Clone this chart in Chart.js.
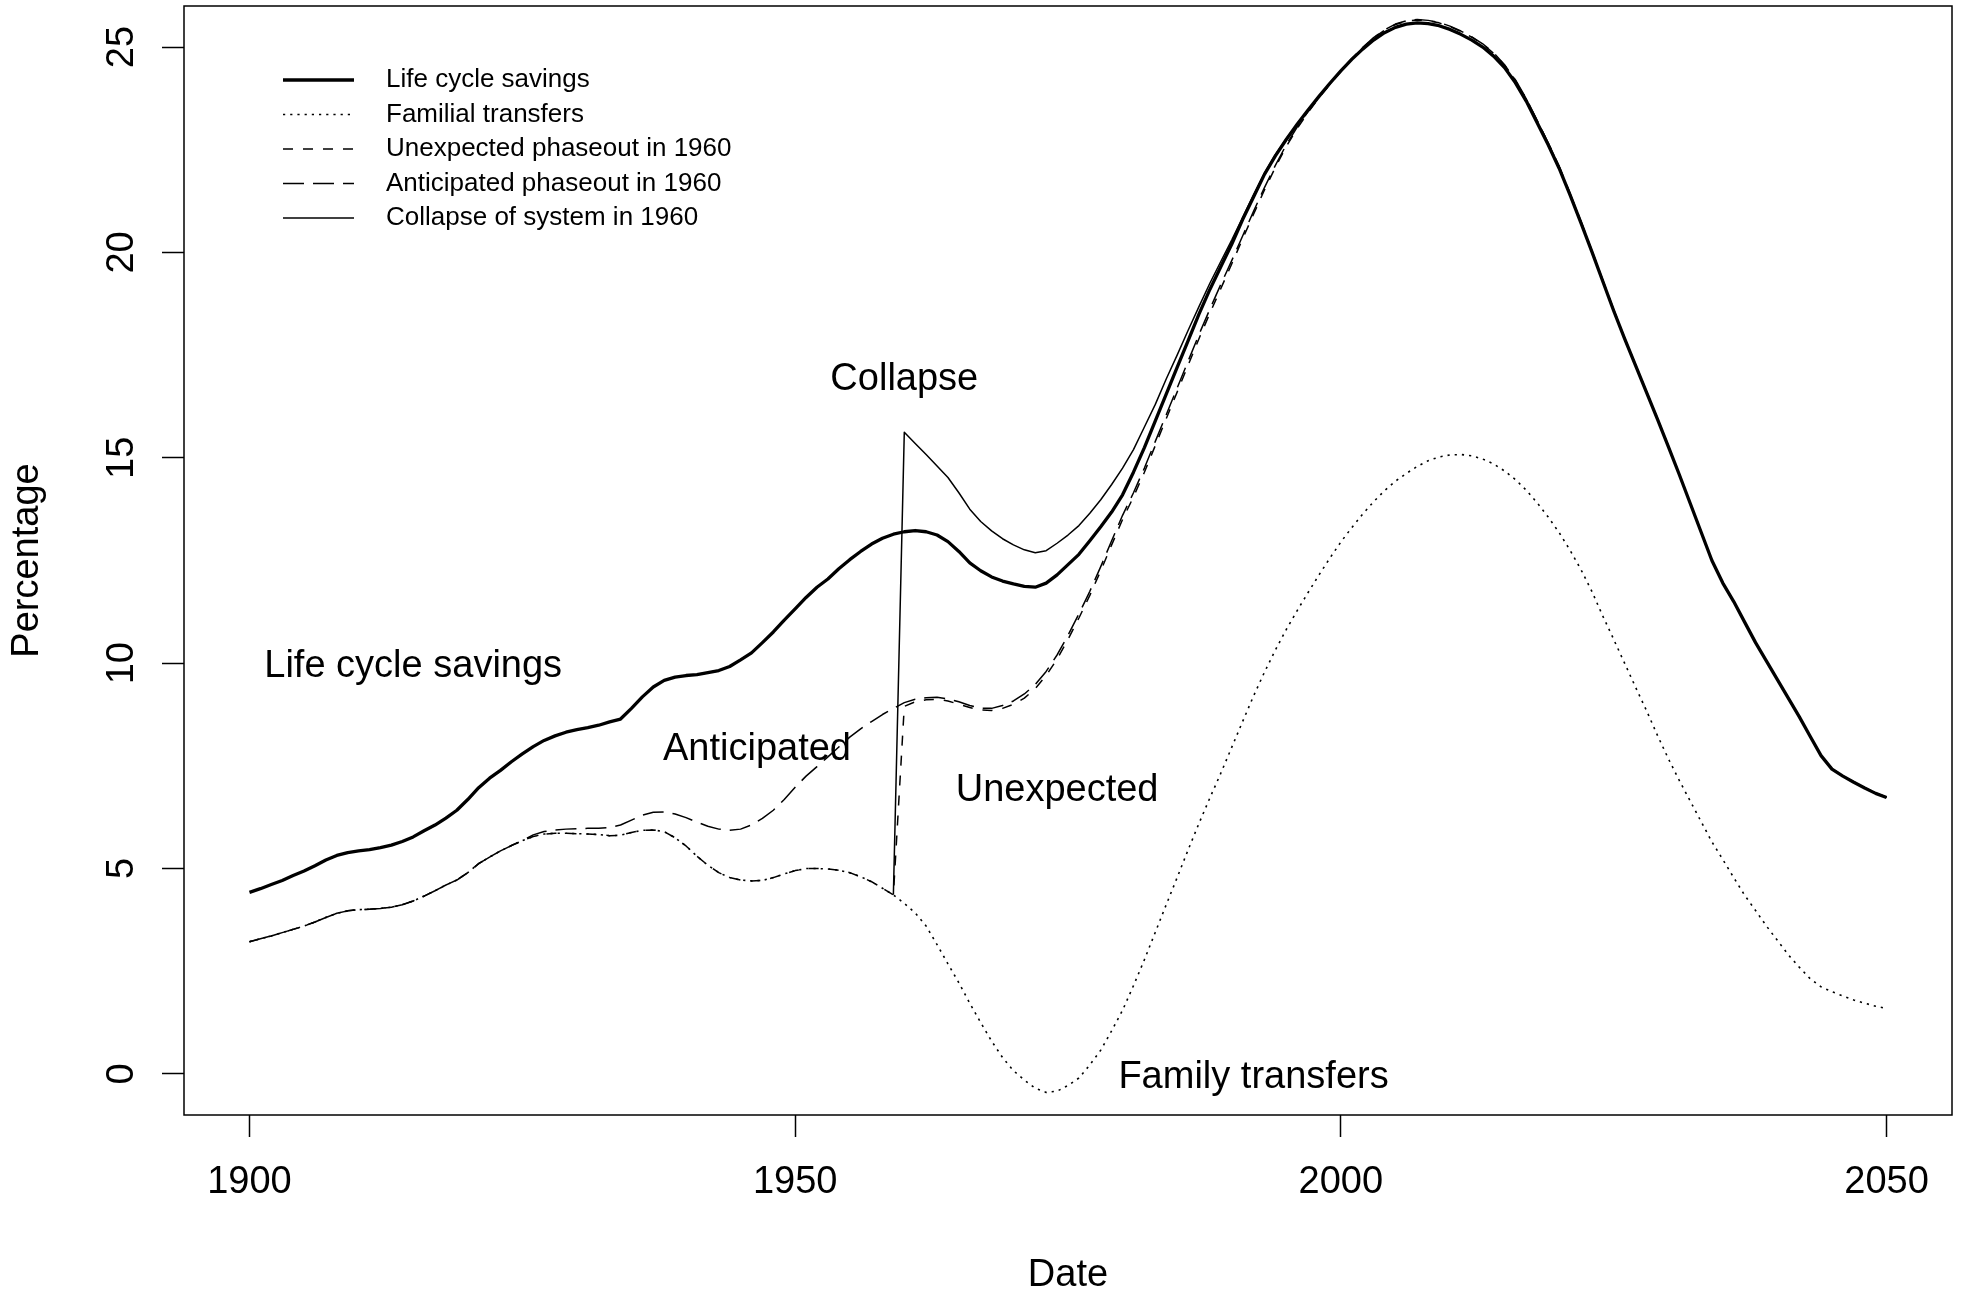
<!DOCTYPE html>
<html>
<head>
<meta charset="utf-8">
<script src="https://cdn.jsdelivr.net/npm/chart.js@4.4.1/dist/chart.umd.min.js"></script>
<style>
html,body{margin:0;padding:0;background:#fff;}
#c{display:block;}
</style>
</head>
<body>
<canvas id="c" width="1965" height="1291"></canvas>
<script>
// ---------- DATA ----------
const years = [
1900,1901,1902,1903,1904,1905,1906,1907,1908,1909,
1910,1911,1912,1913,1914,1915,1916,1917,1918,1919,
1920,1921,1922,1923,1924,1925,1926,1927,1928,1929,
1930,1931,1932,1933,1934,1935,1936,1937,1938,1939,
1940,1941,1942,1943,1944,1945,1946,1947,1948,1949,
1950,1951,1952,1953,1954,1955,1956,1957,1958,1959,
1960,1961,1962,1963,1964,1965,1966,1967,1968,1969,
1970,1971,1972,1973,1974,1975,1976,1977,1978,1979,
1980,1981,1982,1983,1984,1985,1986,1987,1988,1989,
1990,1991,1992,1993,1994,1995,1996,1997,1998,1999,
2000,2001,2002,2003,2004,2005,2006,2007,2008,2009,
2010,2011,2012,2013,2014,2015,2016,2017,2018,2019,
2020,2021,2022,2023,2024,2025,2026,2027,2028,2029,
2030,2031,2032,2033,2034,2035,2036,2037,2038,2039,
2040,2041,2042,2043,2044,2045,2046,2047,2048,2049,
2050];

const lifeCycleSavings = [
4.42,4.51,4.61,4.71,4.83,4.94,5.07,5.21,5.32,5.39,
5.43,5.46,5.51,5.57,5.66,5.77,5.92,6.06,6.23,6.42,
6.68,6.97,7.20,7.39,7.60,7.79,7.97,8.12,8.23,8.32,
8.38,8.43,8.49,8.57,8.64,8.90,9.18,9.42,9.58,9.66,
9.70,9.72,9.77,9.82,9.92,10.08,10.25,10.50,10.76,11.05,
11.32,11.60,11.85,12.05,12.30,12.52,12.72,12.90,13.04,13.14,
13.20,13.23,13.20,13.12,12.96,12.72,12.44,12.25,12.10,12.00,
11.93,11.87,11.85,11.95,12.15,12.40,12.65,12.98,13.32,13.68,
14.10,14.65,15.25,15.90,16.55,17.20,17.85,18.50,19.10,19.65,
20.20,20.80,21.35,21.90,22.35,22.75,23.12,23.47,23.80,24.12,
24.42,24.70,24.95,25.17,25.35,25.48,25.56,25.59,25.57,25.52,
25.43,25.31,25.17,25.00,24.78,24.50,24.13,23.68,23.15,22.62,
22.05,21.40,20.72,20.02,19.30,18.58,17.90,17.25,16.60,15.95,
15.28,14.60,13.90,13.20,12.50,11.95,11.50,11.00,10.50,10.05,
9.60,9.15,8.70,8.22,7.75,7.42,7.25,7.10,6.96,6.83,
6.73];

const familialTransfers = [
3.22,3.29,3.36,3.44,3.52,3.60,3.70,3.81,3.91,3.97,
4.00,4.01,4.03,4.06,4.12,4.21,4.33,4.46,4.60,4.72,
4.90,5.12,5.28,5.43,5.56,5.68,5.78,5.84,5.86,5.86,
5.85,5.84,5.83,5.80,5.81,5.88,5.93,5.94,5.90,5.75,
5.55,5.30,5.08,4.90,4.78,4.72,4.70,4.71,4.78,4.87,
4.95,5.00,5.00,4.99,4.96,4.90,4.80,4.68,4.52,4.36,
4.15,3.92,3.60,3.15,2.68,2.22,1.72,1.25,0.80,0.40,
0.08,-0.15,-0.35,-0.45,-0.42,-0.28,-0.10,0.22,0.58,1.05,
1.55,2.15,2.78,3.45,4.12,4.78,5.45,6.10,6.72,7.32,
7.95,8.58,9.20,9.78,10.32,10.82,11.28,11.72,12.15,12.56,
12.95,13.30,13.63,13.93,14.20,14.43,14.62,14.79,14.93,15.02,
15.07,15.08,15.05,14.97,14.85,14.68,14.47,14.21,13.90,13.56,
13.18,12.75,12.28,11.75,11.15,10.58,10.00,9.42,8.85,8.25,
7.68,7.15,6.65,6.15,5.65,5.22,4.78,4.35,3.98,3.60,
3.25,2.90,2.60,2.32,2.12,2.00,1.90,1.80,1.72,1.65,
1.59];

const unexpectedPhaseout = [
3.22,3.29,3.36,3.44,3.52,3.60,3.70,3.81,3.91,3.97,
4.00,4.01,4.03,4.06,4.12,4.21,4.33,4.46,4.60,4.72,
4.90,5.12,5.28,5.43,5.56,5.68,5.78,5.84,5.86,5.86,
5.85,5.84,5.83,5.80,5.81,5.88,5.93,5.94,5.90,5.75,
5.55,5.30,5.08,4.90,4.78,4.72,4.70,4.71,4.78,4.87,
4.95,5.00,5.00,4.99,4.96,4.90,4.80,4.68,4.52,4.36,
8.95,9.06,9.11,9.12,9.08,9.00,8.92,8.86,8.85,8.90,
9.00,9.15,9.38,9.70,10.10,10.58,11.10,11.65,12.25,12.88,
13.50,14.05,14.65,15.30,15.95,16.60,17.25,17.90,18.52,19.12,
19.72,20.33,20.93,21.52,22.07,22.58,23.02,23.41,23.77,24.09,
24.41,24.71,24.98,25.22,25.41,25.55,25.63,25.66,25.64,25.59,
25.50,25.38,25.24,25.07,24.85,24.56,24.19,23.73,23.20,22.66,
22.09,21.43,20.75,20.04,19.32,18.60,17.91,17.26,16.61,15.96,
15.29,14.60,13.90,13.20,12.50,11.95,11.50,11.00,10.50,10.05,
9.60,9.15,8.70,8.22,7.75,7.43,7.26,7.11,6.97,6.84,
6.74];

const anticipatedPhaseout = [
3.22,3.29,3.36,3.44,3.52,3.60,3.70,3.81,3.91,3.97,
4.00,4.01,4.03,4.06,4.12,4.21,4.33,4.46,4.60,4.72,
4.90,5.12,5.28,5.43,5.56,5.68,5.82,5.90,5.94,5.96,
5.97,5.98,5.98,6.00,6.06,6.18,6.30,6.37,6.38,6.33,
6.24,6.13,6.03,5.96,5.93,5.96,6.06,6.22,6.42,6.68,
6.98,7.25,7.48,7.72,7.96,8.20,8.40,8.58,8.75,8.90,
9.04,9.12,9.16,9.17,9.13,9.06,8.97,8.90,8.90,8.97,
9.08,9.25,9.48,9.80,10.20,10.68,11.20,11.75,12.35,12.98,
13.60,14.15,14.75,15.40,16.05,16.70,17.35,18.00,18.62,19.22,
19.80,20.40,21.00,21.58,22.12,22.62,23.05,23.43,23.78,24.10,
24.42,24.72,24.99,25.23,25.42,25.56,25.64,25.67,25.65,25.60,
25.51,25.39,25.25,25.08,24.86,24.57,24.20,23.74,23.21,22.67,
22.10,21.44,20.76,20.05,19.33,18.61,17.92,17.27,16.62,15.97,
15.30,14.61,13.91,13.21,12.51,11.96,11.50,11.00,10.50,10.05,
9.60,9.15,8.70,8.22,7.75,7.43,7.26,7.11,6.97,6.84,
6.74];

const collapseOfSystem = [
null,null,null,null,null,null,null,null,null,null,
null,null,null,null,null,null,null,null,null,null,
null,null,null,null,null,null,null,null,null,null,
null,null,null,null,null,null,null,null,null,null,
null,null,null,null,null,null,null,null,null,null,
null,null,null,null,null,null,null,null,null,4.36,
15.62,15.35,15.08,14.80,14.52,14.15,13.75,13.45,13.22,13.03,
12.88,12.76,12.69,12.74,12.92,13.12,13.35,13.65,13.98,14.35,
14.75,15.20,15.75,16.30,16.92,17.50,18.10,18.68,19.25,19.78,
20.30,20.85,21.40,21.93,22.38,22.77,23.12,23.47,23.80,24.12,
24.42,24.70,24.95,25.17,25.35,25.48,25.56,25.59,25.57,25.52,
25.43,25.31,25.17,25.00,24.78,24.50,24.13,23.68,23.15,22.62,
22.05,21.40,20.72,20.02,19.30,18.58,17.90,17.25,16.60,15.95,
15.28,14.60,13.90,13.20,12.50,11.95,11.50,11.00,10.50,10.05,
9.60,9.15,8.70,8.22,7.75,7.42,7.25,7.10,6.96,6.83,
6.73];

const seriesLabels = [
  'Life cycle savings',
  'Familial transfers',
  'Unexpected phaseout in 1960',
  'Anticipated phaseout in 1960',
  'Collapse of system in 1960'
];

const xTicks = [1900, 1950, 2000, 2050];
const yTicks = [0, 5, 10, 15, 20, 25];

const noteTexts = ['Collapse', 'Life cycle savings', 'Anticipated', 'Unexpected', 'Family transfers'];
const noteX = [1960, 1915, 1946.5, 1974, 1992];
const noteY = [17, 10, 8, 7, 0];

// ---------- CHART ----------
const FONT = '"Liberation Sans", Arial, Helvetica, sans-serif';
const pts = vals => years.map((yr, i) => ({x: yr, y: vals[i]}));

const styles = [
  {w: 3.3, dash: []},
  {w: 1.6, dash: [2.2, 5]},
  {w: 1.5, dash: [10, 10]},
  {w: 1.5, dash: [21, 9]},
  {w: 1.5, dash: []}
];
const seriesValues = [lifeCycleSavings, familialTransfers, unexpectedPhaseout, anticipatedPhaseout, collapseOfSystem];

const datasets = seriesValues.map((vals, i) => ({
  label: seriesLabels[i],
  data: pts(vals),
  borderColor: '#000',
  backgroundColor: '#000',
  borderWidth: styles[i].w,
  borderDash: styles[i].dash,
  borderCapStyle: 'butt',
  borderJoinStyle: 'round',
  pointRadius: 0,
  pointHoverRadius: 0,
  tension: 0,
  fill: false,
  spanGaps: false
}));

const overlay = {
  id: 'overlay',
  afterDraw(chart) {
    const {ctx, chartArea: a, scales: {x, y}} = chart;
    ctx.save();
    // frame
    ctx.strokeStyle = '#000';
    ctx.lineWidth = 1.5;
    ctx.setLineDash([]);
    ctx.strokeRect(a.left, a.top, a.right - a.left, a.bottom - a.top);
    // annotations
    ctx.fillStyle = '#000';
    ctx.font = '38px ' + FONT;
    ctx.textAlign = 'center';
    ctx.textBaseline = 'middle';
    noteTexts.forEach((t, i) => {
      ctx.fillText(t, x.getPixelForValue(noteX[i]), y.getPixelForValue(noteY[i]) + 3.7);
    });
    // legend
    const lx0 = 283, lx1 = 354, tx = 386, ly0 = 80, dy = 34.5;
    ctx.font = '26px ' + FONT;
    ctx.textAlign = 'left';
    chart.data.datasets.forEach((ds, i) => {
      const yy = ly0 + i * dy;
      ctx.beginPath();
      ctx.lineWidth = ds.borderWidth;
      ctx.setLineDash(ds.borderDash);
      ctx.lineCap = 'butt';
      ctx.moveTo(lx0, yy);
      ctx.lineTo(lx1, yy);
      ctx.stroke();
      ctx.setLineDash([]);
      ctx.fillText(ds.label, tx, yy);
    });
    ctx.restore();
  }
};

const gridOpts = {
  display: true,
  drawOnChartArea: false,
  drawTicks: true,
  tickLength: 22,
  tickWidth: 1.5,
  tickColor: '#000',
  color: '#000'
};

new Chart(document.getElementById('c'), {
  type: 'line',
  data: {datasets},
  options: {
    responsive: false,
    animation: false,
    devicePixelRatio: 1,
    layout: {padding: {left: 0, right: 13, top: 6, bottom: 0}},
    plugins: {legend: {display: false}, tooltip: {enabled: false}},
    events: [],
    scales: {
      x: {
        type: 'linear',
        min: 1894, max: 2056,
        afterBuildTicks: s => { s.ticks = xTicks.map(v => ({value: v})); },
        afterFit: s => { s.height = 176; s.paddingLeft = 0; s.paddingRight = 0; },
        grid: gridOpts,
        border: {display: false},
        ticks: {
          autoSkip: false, maxRotation: 0, minRotation: 0,
          color: '#000', padding: 23,
          font: {family: FONT, size: 38, lineHeight: 1.2},
          callback: v => String(v)
        },
        title: {
          display: true, text: 'Date', color: '#000',
          font: {family: FONT, size: 38, lineHeight: 1},
          padding: {top: 0, bottom: -4}
        }
      },
      y: {
        type: 'linear',
        min: -1, max: 26,
        afterBuildTicks: s => { s.ticks = yTicks.map(v => ({value: v})); },
        afterFit: s => { s.width = 184; s.paddingTop = 0; s.paddingBottom = 0; },
        grid: gridOpts,
        border: {display: false},
        ticks: {
          autoSkip: false, minRotation: 90, maxRotation: 90,
          crossAlign: 'center',
          color: '#000', padding: 18,
          font: {family: FONT, size: 38, lineHeight: 1.2},
          callback: v => String(v)
        },
        title: {
          display: true, text: 'Percentage', color: '#000',
          font: {family: FONT, size: 38, lineHeight: 1},
          padding: {top: 9, bottom: 0}
        }
      }
    }
  },
  plugins: [overlay]
});
</script>
</body>
</html>
